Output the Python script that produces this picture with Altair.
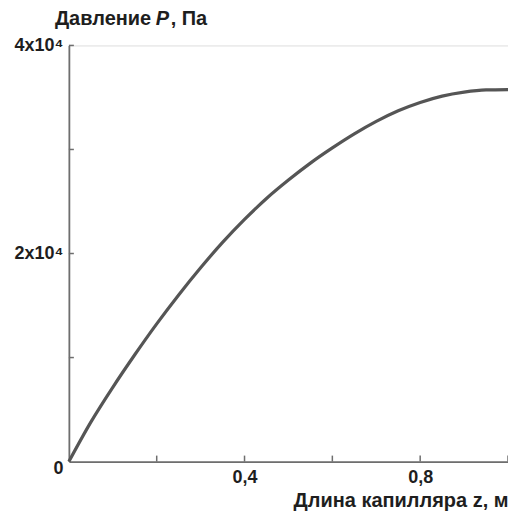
import altair as alt
import pandas as pd

z = [0, 0.05, 0.1, 0.15, 0.2, 0.25, 0.3, 0.35, 0.4, 0.45, 0.5, 0.55, 0.6,
     0.65, 0.7, 0.75, 0.8, 0.85, 0.9, 0.95, 1.0]
P = [0, 3790, 7140, 10270, 13240, 16020, 18630, 21070, 23280, 25290, 27060,
     28690, 30150, 31500, 32700, 33720, 34520, 35130, 35510, 35720, 35750]

x_ticks = [0.2, 0.4, 0.6, 0.8, 1.0]
y_ticks = [10000, 20000, 30000, 40000]

FONT = "Liberation Sans"
TXT = "#1e1e1e"
AX = "#6e6e6e"
W, H = 440, 417

df = pd.DataFrame({"z": z, "P": P})
xt = pd.DataFrame({"t": x_ticks})
yt = pd.DataFrame({"t": y_ticks})

xscale = alt.Scale(domain=[0, 1], nice=False, zero=False)
yscale = alt.Scale(domain=[0, 40000], nice=False)

line = alt.Chart(df).mark_line(color="#555555", strokeWidth=3.2, interpolate="monotone").encode(
    x=alt.X("z:Q", scale=xscale,
            axis=alt.Axis(values=[0.4, 0.8], labelExpr="datum.value == 0.4 ? '0,4' : '0,8'",
                          ticks=False, tickSize=0, grid=False, labelPadding=7,
                          labelFont=FONT, labelFontSize=18, labelFontWeight="bold",
                          labelColor=TXT, domainColor=AX, domainWidth=1.8,
                          title="Длина капилляра z, м", titleFont=FONT, titleFontSize=20,
                          titleFontWeight="bold", titleColor=TXT,
                          titleAlign="right", titleAnchor="end", titleX=440, titleY=45,
                          titleBaseline="alphabetic")),
    y=alt.Y("P:Q", scale=yscale,
            axis=alt.Axis(values=[0, 20000, 40000],
                          labelExpr="datum.value == 0 ? '0' : (datum.value == 20000 ? '2x10⁴' : '4x10⁴')",
                          labelOffset={"condition": {"test": "datum.value == 0", "value": 7}, "value": 0},
                          ticks=False, tickSize=0, grid=False, labelPadding=6,
                          labelFont=FONT, labelFontSize=18, labelFontWeight="bold",
                          labelColor=TXT, domainColor=AX, domainWidth=1.8,
                          title=None)),
)

xtick = alt.Chart(xt).mark_rule(color=AX, strokeWidth=1.5).encode(
    x=alt.X("t:Q", scale=xscale), y=alt.value(H), y2=alt.value(H - 6))
ytick = alt.Chart(yt).mark_rule(color=AX, strokeWidth=1.5).encode(
    y=alt.Y("t:Q", scale=yscale), x=alt.value(0), x2=alt.value(5))

# y-axis title "Давление P, Па" with italic P, set as three text pieces
title_parts = ["Давление", "P", ", Па"]
title_styles = ["normal", "italic", "normal"]
title_x = [-14, 87, 102]
tparts = []
for txt, sty, tx in zip(title_parts, title_styles, title_x):
    tparts.append(
        alt.Chart(pd.DataFrame({"s": [txt]})).mark_text(
            font=FONT, fontSize=20, fontWeight="bold", fontStyle=sty, color=TXT,
            align="left", baseline="alphabetic"
        ).encode(text="s:N", x=alt.value(tx), y=alt.value(-20))
    )

chart = alt.layer(line, xtick, ytick, *tparts).properties(
    width=W, height=H,
    autosize=alt.AutoSizeParams(type="none"),
    padding={"left": 61, "top": 37, "right": 0, "bottom": 50},
).configure_view(stroke=None).configure(background="white")

chart.save("out.html", embed_options={"renderer": "svg", "actions": False})
